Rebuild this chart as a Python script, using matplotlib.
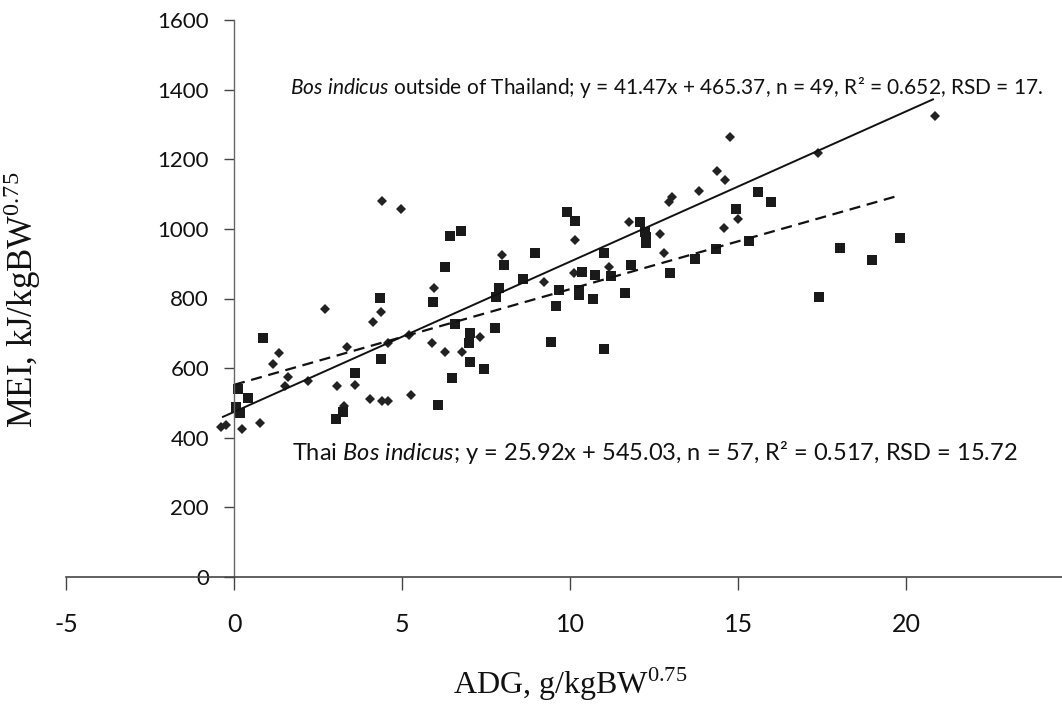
import matplotlib
matplotlib.use("Agg")
import matplotlib.pyplot as plt
import numpy as np

plt.rcParams['mathtext.fontset'] = 'custom'
plt.rcParams['mathtext.rm'] = 'Liberation Serif'
plt.rcParams['mathtext.it'] = 'Lato:italic'
plt.rcParams['axes.unicode_minus'] = False

# Bos indicus outside of Thailand (diamonds, solid line)
out_adg = [-0.4, -0.24, 0.24, 0.78, 1.16, 1.34, 1.52, 1.6, 2.2, 2.72, 3.07, 3.28,
           3.37, 3.6, 4.06, 4.15, 4.36, 4.39, 4.39, 4.57, 4.58, 4.96, 5.22, 5.27,
           5.88, 5.94, 6.27, 6.78, 7.31, 7.97, 9.22, 10.12, 10.15, 11.16, 11.76,
           12.69, 12.81, 12.95, 13.04, 13.85, 14.36, 14.57, 14.6, 14.75, 14.99,
           17.37, 20.87]
out_mei = [432, 437, 425, 443, 612, 644, 549, 575, 563, 770, 549, 491,
           661, 552, 511, 733, 762, 506, 1080, 506, 673, 1057, 695, 523,
           672, 830, 647, 647, 690, 925, 848, 874, 968, 890, 1020,
           986, 931, 1078, 1092, 1109, 1167, 1003, 1141, 1264, 1029,
           1218, 1325]

# Thai Bos indicus (squares, dashed line)
thai_adg = [0.06, 0.18, 0.12, 0.42, 0.87, 3.04, 3.25, 3.6, 4.33, 4.36, 5.91, 6.08,
            6.27, 6.42, 6.48, 6.57, 6.75, 6.98, 7.01, 7.01, 7.43, 7.76, 7.79, 7.88,
            8.03, 8.6, 8.96, 9.43, 9.58, 9.67, 9.91, 10.15, 10.27, 10.27, 10.36,
            10.69, 10.75, 11.0, 11.01, 11.22, 11.64, 11.82, 12.09, 12.24, 12.27,
            12.27, 12.96, 13.73, 14.33, 14.93, 15.34, 15.58, 15.97, 17.4, 18.03,
            18.99, 19.82]
thai_mei = [489, 471, 540, 514, 687, 454, 474, 586, 802, 626, 790, 494,
            891, 980, 572, 727, 994, 672, 701, 618, 598, 716, 805, 830,
            897, 856, 931, 675, 779, 825, 1049, 1023, 825, 810, 876,
            799, 868, 655, 931, 865, 816, 897, 1020, 991, 977,
            960, 873, 914, 942, 1057, 965, 1106, 1078, 805, 945,
            911, 974]

# fitted lines as they appear (end points)
out_line_x = [-0.33, 20.8]
out_line_y = [460, 1372]
thai_line_x = [0.0, 19.76]
thai_line_y = [552, 1095]

out_label = (r"$\mathit{Bos\ indicus}$ outside of Thailand; y = 41.47x + 465.37, "
             "n = 49, R² = 0.652, RSD = 17.")
thai_label = (r"Thai $\mathit{Bos\ indicus}$; y = 25.92x + 545.03, n = 57, "
              "R² = 0.517, RSD = 15.72")

fig = plt.figure(figsize=(10.62, 7.06), dpi=100)
ax = fig.add_axes([66 / 1062, 129 / 706, 996 / 1062, 557 / 706])

ax.plot(out_adg, out_mei, linestyle='none', marker='D', markersize=5.5,
        color='#222222', markeredgewidth=0)
ax.plot(thai_adg, thai_mei, linestyle='none', marker='s', markersize=7.5,
        color='#1a1a1a', markeredgewidth=0)
ax.plot(out_line_x, out_line_y, color='#111111', lw=1.4)
ax.plot(thai_line_x, thai_line_y, color='#111111', lw=1.6, dashes=(5, 3))

ax.set_xlim(-5, 24.64)
ax.set_ylim(0, 1600)

ax.spines['left'].set_position(('data', 0))
ax.spines['bottom'].set_position(('data', 0))
ax.spines['right'].set_visible(False)
ax.spines['top'].set_visible(False)
ax.spines['left'].set_color('#666666')
ax.spines['bottom'].set_color('#444444')
ax.spines['left'].set_linewidth(1.0)
ax.spines['bottom'].set_linewidth(1.2)

ax.set_xticks([-5, 0, 5, 10, 15, 20])
ax.set_yticks(range(0, 1601, 200))
ax.tick_params(axis='y', direction='out', length=7, width=1, color='#444444',
               pad=11, labelsize=16)
ax.tick_params(axis='x', direction='out', length=9, width=1, color='#444444',
               pad=17, labelsize=18)
for lab in ax.get_xticklabels() + ax.get_yticklabels():
    lab.set_fontfamily('Lato')
    lab.set_color('#111111')

fig.text(290 / 1062, 1 - 88 / 706, out_label, fontsize=15, family='Lato',
         va='center', ha='left', color='#111111')
fig.text(292 / 1062, 1 - 452 / 706, thai_label, fontsize=17, family='Lato',
         va='center', ha='left', color='#111111')

fig.text(22 / 1062, 1 - 300 / 706, r"MEI, kJ/kgBW$^{0.75}$", rotation=90,
         family='Liberation Serif', fontsize=25, va='center', ha='center',
         color='#111111')
fig.text(570 / 1062, 1 - 684 / 706, r"ADG, g/kgBW$^{0.75}$",
         family='Liberation Serif', fontsize=23, va='center', ha='center',
         color='#111111')

fig.savefig("out.png", dpi=100)
